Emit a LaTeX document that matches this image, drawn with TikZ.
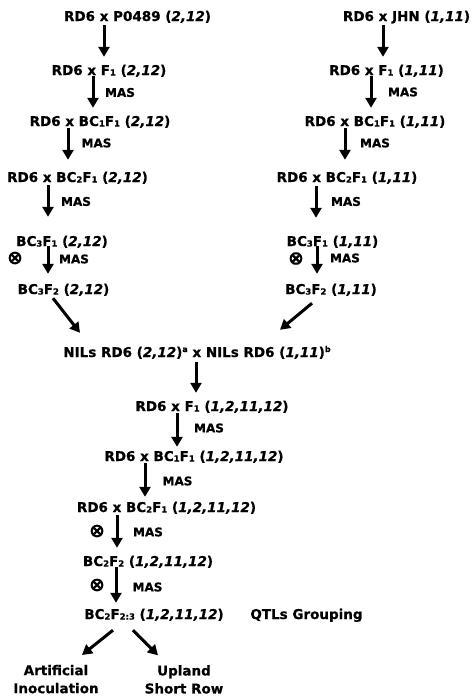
\documentclass[tikz,border=0pt]{standalone}
\usepackage{fontspec}
\setmainfont{DejaVu Sans}[BoldFeatures={FakeBold=0.7},BoldItalicFeatures={FakeBold=0.7}]
\usetikzlibrary{arrows.meta,calc}
\newcommand{\sbs}[1]{\raisebox{-0.6pt}{\fontsize{8.5}{8.5}\selectfont #1}}
\newcommand{\sps}[1]{\raisebox{5pt}{\fontsize{8}{8}\selectfont #1}}
\newcommand{\iv}[1]{\textit{#1}}
\tikzset{
  lbl/.style={anchor=base, inner sep=1pt, text height=10.5pt, text depth=2pt,
    font=\fontsize{13.5}{16}\selectfont\bfseries},
  twoline/.style={anchor=north, inner sep=1pt, align=center,
    font=\fontsize{13.5}{18}\selectfont\bfseries},
  mas/.style={anchor=center, inner sep=0pt, font=\fontsize{12}{14}\selectfont\bfseries},
  selfx/.style={anchor=center, inner sep=0pt, font=\fontsize{19}{19}\selectfont\bfseries},
  arr/.style={line width=3pt, -{Triangle[length=10pt,width=11pt]}},
}
\begin{document}
\begin{tikzpicture}[x=1pt,y=-1pt]
\useasboundingbox[fill=white] (0,0) rectangle (474,696);
% left column
\node[lbl] (L1) at (137.5,21) {RD6 x P0489 (\iv{2,12})};
\node[lbl] (L2) at (109,75) {RD6 x F\sbs{1} (\iv{2,12})};
\node[lbl] (L3) at (100,126) {RD6 x BC\sbs{1}F\sbs{1} (\iv{2,12})};
\node[lbl] (L4) at (77.5,182) {RD6 x BC\sbs{2}F\sbs{1} (\iv{2,12})};
\node[lbl] (L5) at (62,246) {BC\sbs{3}F\sbs{1} (\iv{2,12})};
\node[lbl] (L6) at (63.5,294) {BC\sbs{3}F\sbs{2} (\iv{2,12})};
% right column
\node[lbl] (R1) at (406.5,21) {RD6 x JHN (\iv{1,11})};
\node[lbl] (R2) at (386.5,75) {RD6 x F\sbs{1} (\iv{1,11})};
\node[lbl] (R3) at (375,126) {RD6 x BC\sbs{1}F\sbs{1} (\iv{1,11})};
\node[lbl] (R4) at (347,182) {RD6 x BC\sbs{2}F\sbs{1} (\iv{1,11})};
\node[lbl] (R5) at (332.5,246) {BC\sbs{3}F\sbs{1} (\iv{1,11})};
\node[lbl] (R6) at (331,294) {BC\sbs{3}F\sbs{2} (\iv{1,11})};
% middle
\node[lbl] (M1) at (197,357) {NILs RD6 (\iv{2,12})\sps{a} x NILs RD6 (\iv{1,11})\sps{b}};
\node[lbl] (M2) at (212,411) {RD6 x F\sbs{1} (\iv{1,2,11,12})};
\node[lbl] (M3) at (194,461) {RD6 x BC\sbs{1}F\sbs{1} (\iv{1,2,11,12})};
\node[lbl] (M4) at (166.5,512) {RD6 x BC\sbs{2}F\sbs{1} (\iv{1,2,11,12})};
\node[lbl] (M5) at (148,566) {BC\sbs{2}F\sbs{2} (\iv{1,2,11,12})};
\node[lbl] (M6) at (154,619) {BC\sbs{2}F\sbs{2:3} (\iv{1,2,11,12})};
\node[lbl] (QTL) at (306.5,619) {QTLs Grouping};
\node[twoline] (Art) at (56,663.7) {Artificial\\Inoculation};
\node[twoline] (Up) at (184,664) {Upland\\Short Row};
% MAS labels
\node[mas] (m1) at (120,92.5) {MAS};
\node[mas] (m2) at (96.5,143) {MAS};
\node[mas] (m3) at (76,201.5) {MAS};
\node[mas] (m4) at (74,259) {MAS};
\node[mas] (m5) at (403,92) {MAS};
\node[mas] (m6) at (375,143) {MAS};
\node[mas] (m7) at (346,201.5) {MAS};
\node[mas] (m8) at (345,258) {MAS};
\node[mas] (m9) at (209,428) {MAS};
\node[mas] (m10) at (177.5,481) {MAS};
\node[mas] (m11) at (148,532) {MAS};
\node[mas] (m12) at (147.5,587) {MAS};
% selfing symbols
\node[selfx] (s1) at (15,258) {⊗};
\node[selfx] (s2) at (296,258.5) {⊗};
\node[selfx] (s3) at (97,531) {⊗};
\node[selfx] (s4) at (97,585) {⊗};
% arrows left
\draw[arr] ($(104,0 |- L1.south)+(0,1)$) -- ($(104,0 |- L2.north)+(0,-6.5)$);
\draw[arr] ($(93,0 |- L2.south)+(0,-2)$) -- ($(93,0 |- L3.north)+(0,-6.5)$);
\draw[arr] ($(68,0 |- L3.south)+(0,-1)$) -- ($(68,0 |- L4.north)+(0,-10.5)$);
\draw[arr] ($(48,0 |- L4.south)+(0,0)$) -- ($(48,0 |- L5.north)+(0,-17.5)$);
\draw[arr] ($(48,0 |- L5.south)+(0,-3)$) -- ($(48,0 |- L6.north)+(0,-8.5)$);
% arrows right
\draw[arr] ($(383,0 |- R1.south)+(0,1)$) -- ($(383,0 |- R2.north)+(0,-6.5)$);
\draw[arr] ($(371,0 |- R2.south)+(0,-2)$) -- ($(371,0 |- R3.north)+(0,-6.5)$);
\draw[arr] ($(345,0 |- R3.south)+(0,-1)$) -- ($(345,0 |- R4.north)+(0,-10.5)$);
\draw[arr] ($(316,0 |- R4.south)+(0,1)$) -- ($(316,0 |- R5.north)+(0,-16.5)$);
\draw[arr] ($(317,0 |- R5.south)+(0,-3)$) -- ($(317,0 |- R6.north)+(0,-8.5)$);
% converging arrows
\draw[arr] ($(53,0 |- L6.south)+(0,1)$) -- ($(80,0 |- M1.north)+(0,-12.5)$);
\draw[arr] ($(312,0 |- R6.south)+(0,6)$) -- ($(280,0 |- M1.north)+(0,-15.5)$);
% middle arrows
\draw[arr] ($(196,0 |- M1.south)+(0,2)$) -- ($(196,0 |- M2.north)+(0,-6.5)$);
\draw[arr] ($(177,0 |- M2.south)+(0,-1)$) -- ($(177,0 |- M3.north)+(0,-2.5)$);
\draw[arr] ($(145,0 |- M3.south)+(0,-1)$) -- ($(145,0 |- M4.north)+(0,-3.5)$);
\draw[arr] ($(117,0 |- M4.south)+(0,0)$) -- ($(117,0 |- M5.north)+(0,-6.5)$);
\draw[arr] ($(116,0 |- M5.south)+(0,-2)$) -- ($(116,0 |- M6.north)+(0,-4.5)$);
% diverging arrows
\draw[arr] ($(113,0 |- M6.south)+(0,8)$) -- ($(82,0 |- Art.north)+(0,-8.7)$);
\draw[arr] ($(133,0 |- M6.south)+(0,8)$) -- ($(158,0 |- Up.north)+(0,-8.7)$);
\end{tikzpicture}
\end{document}
